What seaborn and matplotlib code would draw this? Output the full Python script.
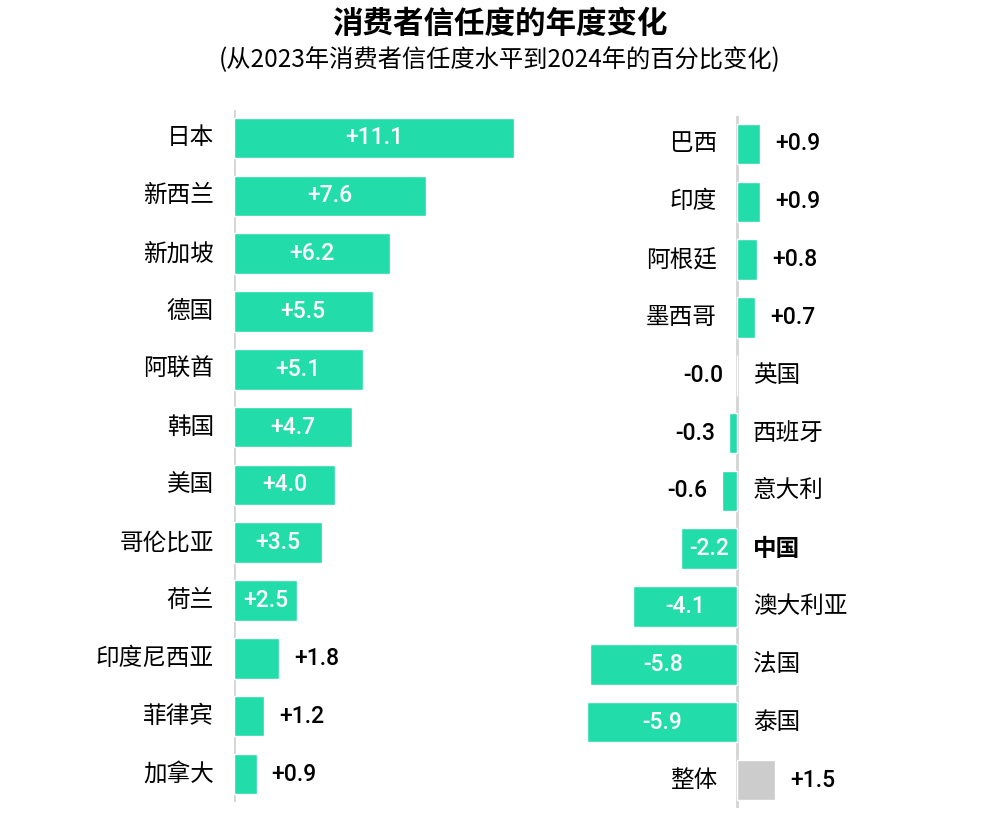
import numpy as np
import pandas as pd
from matplotlib import pyplot as plt
import seaborn as sns

# left panel: countries with the largest gains
left_names = ['日本', '新西兰', '新加坡', '德国', '阿联酋', '韩国', '美国', '哥伦比亚',
              '荷兰', '印度尼西亚', '菲律宾', '加拿大']
left_values = [11.1, 7.6, 6.2, 5.5, 5.1, 4.7, 4.0, 3.5, 2.5, 1.8, 1.2, 0.9]

# right panel: the rest plus the overall figure
right_names = ['巴西', '印度', '阿根廷', '墨西哥', '英国', '西班牙', '意大利', '中国',
               '澳大利亚', '法国', '泰国', '整体']
right_values = [0.9, 0.9, 0.8, 0.7, -0.0, -0.3, -0.6, -2.2, -4.1, -5.8, -5.9, 1.5]

title = '消费者信任度的年度变化'
subtitle = '(从2023年消费者信任度水平到2024年的百分比变化)'

GREEN = '#22dcaa'
GREY = '#cccccc'
AXIS = '#d4d4d4'
PX = 0.72  # points per pixel at dpi 100

sns.set_theme(style='white')
plt.rcParams['font.family'] = ['Noto Sans CJK SC', 'DejaVu Sans']
plt.rcParams['text.color'] = 'black'

fig = plt.figure(figsize=(10, 8.3), dpi=100)
ax1 = fig.add_axes([0.234, 1 - 802 / 830, 13 * 25.2 / 1000, 692 / 830])
ax2 = fig.add_axes([(737 - 6.5 * 25.4) / 1000, 1 - 808 / 830, 9.5 * 25.4 / 1000, 692 / 830])

left_df = pd.DataFrame({'country': left_names, 'change': left_values})
right_df = pd.DataFrame({'country': right_names, 'change': right_values})
right_pal = {n: (GREY if n == '整体' else GREEN) for n in right_names}

sns.barplot(data=left_df, x='change', y='country', color=GREEN, width=0.7,
            orient='h', ax=ax1, saturation=1)
sns.barplot(data=right_df, x='change', y='country', hue='country', palette=right_pal,
            width=0.7, orient='h', ax=ax2, saturation=1, legend=False)

ax1.set_xlim(0, 13)
ax2.set_xlim(-6.5, 3)
for ax, n in ((ax1, len(left_names)), (ax2, len(right_names))):
    ax.set_ylim(n - 1 + 0.484, -0.484)
    ax.axvline(0, color=AXIS, lw=2, zorder=0)
    ax.set_xticks([])
    ax.set_yticks([])
    ax.set_xlabel('')
    ax.set_ylabel('')
    sns.despine(ax=ax, left=True, bottom=True)
    ax.patch.set_alpha(0)

num_font = dict(family=['Roboto', 'DejaVu Sans'], fontsize=16.5, fontweight='medium')


def label_bars(ax, names, values, right_side):
    for i, (name, v) in enumerate(zip(names, values)):
        txt = format(v, '+.1f')
        neg = np.signbit(v)
        if abs(v) >= 2:
            ax.text(v / 2, i, txt, ha='center', va='center', color='white', **num_font)
        elif neg:
            ax.annotate(txt, xy=(v, i), xytext=(-14 * PX, 0), textcoords='offset points',
                        ha='right', va='center', color='black', **num_font)
        else:
            ax.annotate(txt, xy=(v, i), xytext=(15 * PX, 0), textcoords='offset points',
                        ha='left', va='center', color='black', **num_font)
        weight = 'bold' if name == '中国' else 'normal'
        if right_side and neg:
            ax.annotate(name, xy=(0, i), xytext=(16 * PX, 0), textcoords='offset points',
                        ha='left', va='center', fontsize=17, fontweight=weight)
        else:
            ax.annotate(name, xy=(0, i), xytext=(-20 * PX, 0), textcoords='offset points',
                        ha='right', va='center', fontsize=17, fontweight=weight)


label_bars(ax1, left_names, left_values, False)
label_bars(ax2, right_names, right_values, True)

fig.text(0.5, 1 - 24 / 830, title, ha='center', va='center', fontsize=22, fontweight='heavy')
fig.text(0.5, 1 - 60 / 830, subtitle, ha='center', va='center', fontsize=17.5)

plt.savefig('out.png', dpi=100)
